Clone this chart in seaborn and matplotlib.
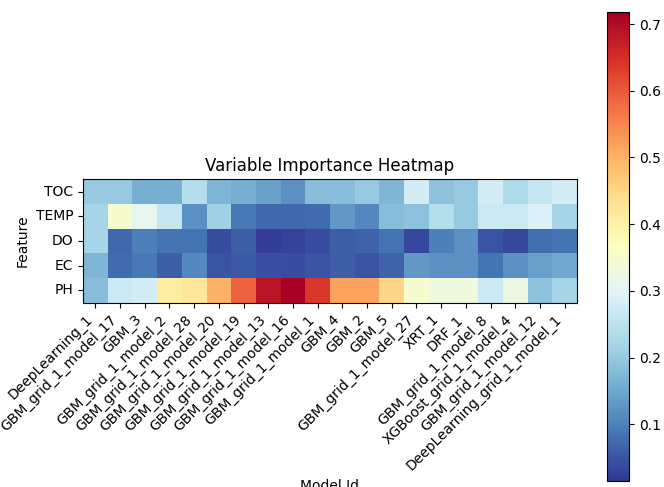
import matplotlib
matplotlib.use("Agg")
import matplotlib.pyplot as plt
import seaborn as sb
import pandas as pd

# model ids along the x axis
models = ["DeepLearning_1", "GBM_grid_1_model_17", "GBM_3", "GBM_grid_1_model_2",
          "GBM_grid_1_model_28", "GBM_grid_1_model_20", "GBM_grid_1_model_19",
          "GBM_grid_1_model_13", "GBM_grid_1_model_16", "GBM_grid_1_model_1",
          "GBM_4", "GBM_2", "GBM_5", "GBM_grid_1_model_27", "XRT_1", "DRF_1",
          "GBM_grid_1_model_8", "XGBoost_grid_1_model_4", "GBM_grid_1_model_12",
          "DeepLearning_grid_1_model_1"]
features = ["TOC", "TEMP", "DO", "EC", "PH"]

# scaled importance per feature
toc = [0.20, 0.20, 0.16, 0.16, 0.24, 0.17, 0.16, 0.14, 0.12, 0.18,
       0.18, 0.20, 0.17, 0.28, 0.19, 0.20, 0.28, 0.23, 0.26, 0.28]
temp = [0.22, 0.35, 0.31, 0.26, 0.12, 0.21, 0.09, 0.07, 0.07, 0.075,
        0.13, 0.11, 0.18, 0.19, 0.24, 0.20, 0.27, 0.27, 0.29, 0.22]
do = [0.22, 0.07, 0.10, 0.085, 0.085, 0.04, 0.06, 0.025, 0.03, 0.04,
      0.06, 0.065, 0.085, 0.035, 0.10, 0.12, 0.05, 0.035, 0.08, 0.085]
ec = [0.17, 0.075, 0.09, 0.06, 0.11, 0.05, 0.055, 0.045, 0.04, 0.05,
      0.06, 0.05, 0.065, 0.13, 0.12, 0.12, 0.085, 0.12, 0.14, 0.15]
ph = [0.18, 0.27, 0.28, 0.41, 0.42, 0.50, 0.59, 0.69, 0.715, 0.64,
      0.52, 0.52, 0.45, 0.35, 0.33, 0.33, 0.27, 0.32, 0.19, 0.22]

data = pd.DataFrame([toc, temp, do, ec, ph], index=features, columns=models)

fig = plt.figure(figsize=(6.64, 4.87), dpi=100)
ax = fig.add_axes([83/664, 184/487, 494/664, 124/487])
cax = fig.add_axes([607/664, 6/487, 22/664, 469/487])

sb.heatmap(data, cmap="RdYlBu_r", vmin=0.015, vmax=0.718, ax=ax, cbar_ax=cax,
           linewidths=0)
ax.set_aspect("equal")
for s in ax.spines.values():
    s.set_visible(True)
    s.set_linewidth(0.8)
cbar = ax.collections[0].colorbar
cbar.outline.set_linewidth(0.8)
cbar.set_ticks([0.1, 0.2, 0.3, 0.4, 0.5, 0.6, 0.7])
cbar.ax.tick_params(labelsize=10)

ax.set_xticklabels(models, rotation=45, ha="right", fontsize=10)
ax.set_yticklabels(features, rotation=0, fontsize=10)
ax.set_title("Variable Importance Heatmap", fontsize=12)
ax.set_xlabel("Model Id", fontsize=10)
ax.set_ylabel("Feature", fontsize=10)

fig.savefig("out.png", dpi=100)
